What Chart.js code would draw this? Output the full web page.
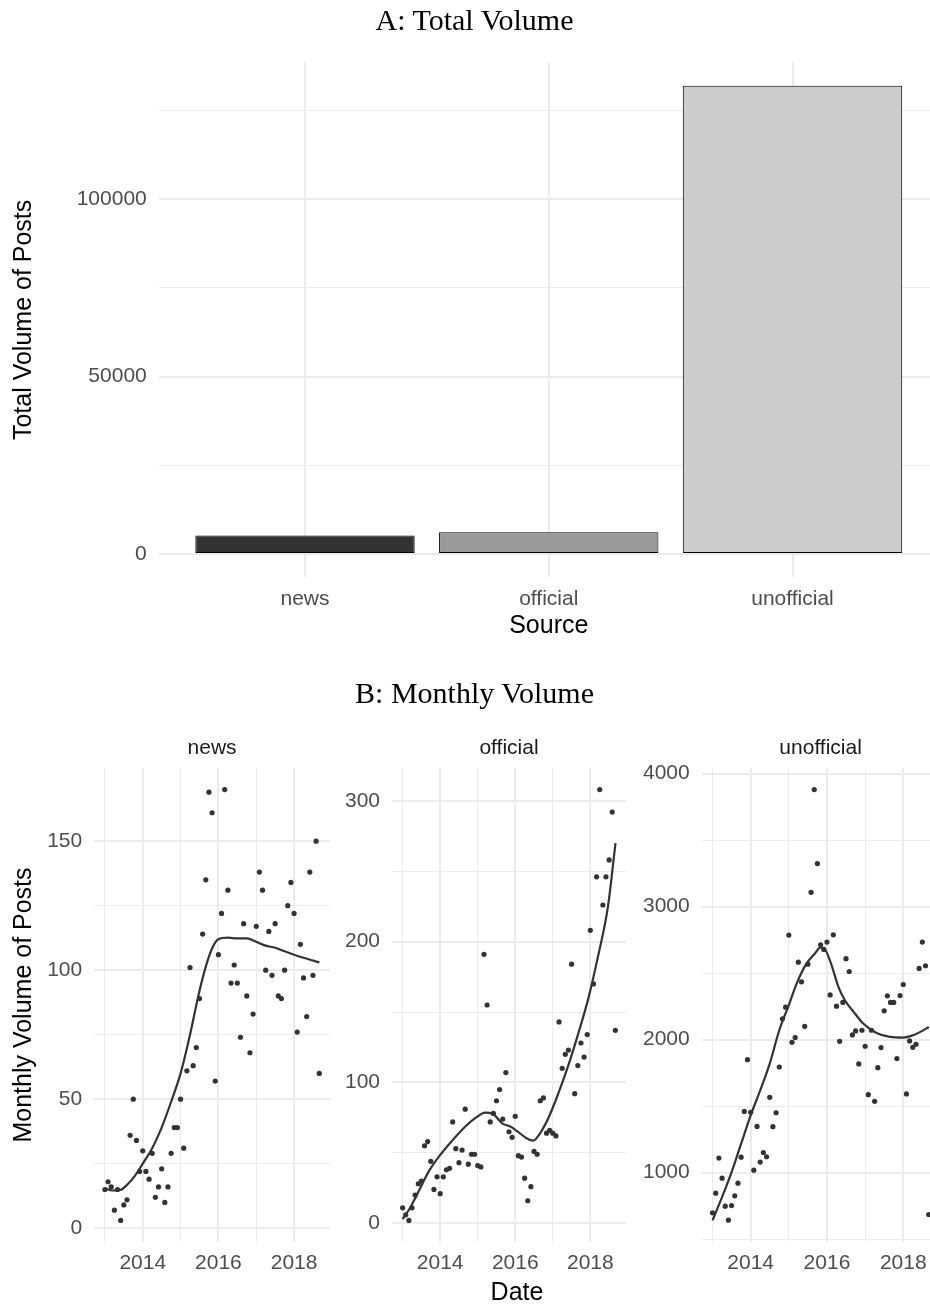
<!DOCTYPE html>
<html>
<head>
<meta charset="utf-8">
<title>Volume of Posts by Source</title>
<script src="https://cdn.jsdelivr.net/npm/chart.js@4.4.0/dist/chart.umd.min.js"></script>
<style>
    html, body { margin: 0; padding: 0; background: #fff; overflow: hidden; }
    .page { position: relative; width: 930px; height: 1306px; overflow: hidden; }
    canvas { position: absolute; }
    .plot-title {
        position: absolute; left: 0; width: 949px; text-align: center;
        font-family: "Liberation Serif", "Times New Roman", serif;
        font-size: 30px; line-height: 30px; color: #000;
    }
    .axis-title {
        position: absolute; width: 200px; text-align: center;
        font-family: "Liberation Sans", Arial, sans-serif;
        font-size: 25px; line-height: 25px; color: #000;
    }
</style>
</head>
<body>
<div class="page">
    <canvas id="totalChart" width="945" height="650" style="left:0;top:0"></canvas>
    <canvas id="newsChart" width="335" height="606" style="left:0;top:700px"></canvas>
    <canvas id="officialChart" width="295" height="606" style="left:335px;top:700px"></canvas>
    <canvas id="unofficialChart" width="315" height="606" style="left:630px;top:700px"></canvas>
    <div class="plot-title" style="top:5px">A: Total Volume</div>
    <div class="plot-title" style="top:678px">B: Monthly Volume</div>
    <div class="axis-title" style="left:417px;top:1279px">Date</div>
</div>

<script>
// Total posts per source
const sources = ['news', 'official', 'unofficial'];
const totalPosts = [5200, 6100, 132000];
const totalMajor = [0, 50000, 100000];
const totalMinor = [25000, 75000, 125000];

// Monthly post counts, one value per month from Jan 2013 to Sep 2018
const firstYear = 2013;
const newsMonthly = [
    15, 18, 16, 7, 15, 3, 9, 11, 36, 50, 34, 22,
    30, 22, 19, 29, 12, 16, 23, 10, 16, 29, 39, 39,
    50, 31, 61, 101, 63, 70, 89, 114, 135, 169, 161, 57,
    106, 122, 170, 131, 95, 102, 95, 74, 118, 90, 68, 83,
    117, 138, 131, 100, 115, 98, 118, 90, 89, 100, 125, 134,
    122, 76, 110, 97, 82, 138, 98, 150, 60
];
const officialMonthly = [
    11, 6, 2, 11, 20, 28, 30, 55, 58, 44, 24, 33,
    21, 33, 38, 39, 72, 53, 43, 52, 81, 42, 49, 49,
    41, 40, 191, 155, 72, 78, 87, 95, 74, 107, 65, 61,
    76, 48, 47, 32, 16, 26, 51, 49, 87, 89, 64, 66,
    64, 62, 143, 110, 120, 123, 184, 92, 112, 128, 118, 134,
    208, 170, 246, 308, 226, 246, 258, 292, 137
];
const unofficialMonthly = [
    697, 845, 1109, 958, 747, 642, 752, 825, 920, 1116, 1460, 1849,
    1453, 1018, 1347, 1079, 1151, 1119, 1566, 1345, 1450, 1794, 2156, 2244,
    2786, 1980, 2015, 2582, 2434, 2100, 2567, 3107, 3880, 3323, 2713, 2678,
    2733, 2336, 2788, 2251, 1987, 2279, 2608, 2512, 2035, 2065, 1817, 2070,
    1950, 1586, 2070, 1536, 1789, 1940, 2216, 2329, 2279, 2279, 1857, 2331,
    2414, 1591, 1990, 1942, 1965, 2535, 2733, 2555, 684
];

// Smoothed trend of each source, read at decimal years
const newsTrendYears = [2013.0, 2013.2, 2013.4, 2013.6, 2013.8, 2014.0, 2014.25, 2014.5, 2014.75, 2015.0,
    2015.25, 2015.5, 2015.7, 2015.85, 2016.0, 2016.25, 2016.5, 2016.75, 2017.0, 2017.25,
    2017.5, 2017.75, 2018.0, 2018.25, 2018.67];
const newsTrend = [15.5, 14.6, 14.8, 17, 20.5, 25, 31, 39, 49, 60,
    75, 92, 103, 109, 112, 112.6, 112.3, 112.3, 111, 109.5,
    108.7, 107.3, 106, 104.8, 103];
const officialTrendYears = [2013.0, 2013.2, 2013.45, 2013.7, 2014.0, 2014.33, 2014.67, 2014.95, 2015.2, 2015.4,
    2015.65, 2015.87, 2016.1, 2016.3, 2016.48, 2016.66, 2016.88, 2017.15, 2017.4, 2017.67,
    2017.94, 2018.2, 2018.47, 2018.67];
const officialTrend = [3, 11, 24, 37, 48.5, 59, 68.7, 75, 78.6, 77.7,
    71, 68.7, 64.4, 60.4, 58.7, 63.9, 74.6, 92.4, 111, 134,
    159, 189, 225, 270];
const unofficialTrendYears = [2013.0, 2013.25, 2013.5, 2013.75, 2014.0, 2014.25, 2014.5, 2014.75, 2015.0, 2015.2,
    2015.45, 2015.7, 2015.83, 2015.97, 2016.12, 2016.3, 2016.47, 2016.7, 2016.95, 2017.3,
    2017.65, 2018.0, 2018.26, 2018.45, 2018.67];
const unofficialTrend = [640, 815, 1003, 1217, 1430, 1618, 1819, 2070, 2259, 2417,
    2565, 2653, 2693, 2668, 2560, 2397, 2296, 2208, 2121, 2050,
    2020, 2015, 2033, 2058, 2095];

// Axis breaks
const yearMajor = [2014, 2016, 2018];
const yearMinor = [2013, 2015, 2017];
const newsMajor = [0, 50, 100, 150];
const newsMinor = [25, 75, 125];
const officialMajor = [0, 100, 200, 300];
const officialMinor = [50, 150, 250];
const unofficialMajor = [1000, 2000, 3000, 4000];
const unofficialMinor = [500, 1500, 2500, 3500];

const SANS = '"Liberation Sans", Arial, Helvetica, sans-serif';
const GRID = '#EBEBEB';
const TICK_COLOR = '#4D4D4D';
const INK = '#333333';

Chart.defaults.font.family = SANS;
Chart.defaults.animation = false;
Chart.defaults.plugins.legend.display = false;
Chart.defaults.plugins.tooltip.enabled = false;

// 5% padding on both sides of the data range
function paddedRange(values) {
    const lo = Math.min(...values);
    const hi = Math.max(...values);
    const pad = (hi - lo) * 0.05;
    return { min: lo - pad, max: hi + pad };
}

// Linear axis with thick major and thin minor grid lines, labels on majors only
function gridAxis(major, minor, extra) {
    const all = major.concat(minor).sort((a, b) => a - b);
    return Object.assign({
        type: 'linear',
        offset: false,
        afterBuildTicks: scale => { scale.ticks = all.map(v => ({ value: v })); },
        grid: {
            offset: false,
            color: GRID,
            lineWidth: ctx => (ctx.tick && major.includes(ctx.tick.value)) ? 2 : 1,
            drawTicks: false
        },
        border: { display: false },
        ticks: {
            color: TICK_COLOR,
            font: { size: 21 },
            autoSkip: false,
            maxRotation: 0,
            padding: 12,
            callback: v => major.includes(v) ? String(v) : ''
        }
    }, extra);
}

// A: total volume bars
const totalRange = paddedRange([0, ...totalPosts]);
const totalX = gridAxis([1, 2, 3], [], {
    min: 0.4, max: 3.6,
    afterFit: s => { s.height = 72.6; },
    title: { display: true, text: 'Source', color: '#000', font: { size: 25 }, padding: { top: 0, bottom: 8.7 } }
});
totalX.ticks.callback = v => sources[v - 1] || '';
totalX.ticks.padding = 9;

new Chart(document.getElementById('totalChart'), {
    type: 'bar',
    data: {
        datasets: [{
            data: sources.map((s, i) => ({ x: i + 1, y: totalPosts[i] })),
            backgroundColor: ['#333333', '#999999', '#CCCCCC'],
            borderColor: '#000000',
            borderWidth: 1,
            borderSkipped: false,
            barPercentage: 0.9,
            categoryPercentage: 1
        }]
    },
    options: {
        responsive: false,
        devicePixelRatio: 1,
        layout: { padding: { top: 62.4, right: 6.25, bottom: 0, left: 0 } },
        scales: {
            x: totalX,
            y: gridAxis(totalMajor, totalMinor, {
                min: totalRange.min, max: totalRange.max,
                afterFit: s => { s.width = 158.75; },
                title: { display: true, text: 'Total Volume of Posts', color: '#000', font: { size: 25 }, padding: { top: 9.5, bottom: 0 } }
            })
        }
    }
});

// B: one facet per source
function facet(id, label, monthly, trendYears, trend, major, minor, axisWidth, rightPad, yTitle) {
    const points = monthly.map((v, i) => ({ x: firstYear + i / 12, y: v }));
    const line = trendYears.map((x, i) => ({ x: x, y: trend[i] }));
    const xRange = paddedRange(points.map(p => p.x));
    const yRange = paddedRange(monthly.concat(trend));

    const xAxis = gridAxis(yearMajor, yearMinor, {
        position: 'bottom',
        min: xRange.min, max: xRange.max,
        afterFit: s => { s.height = 64; }
    });
    xAxis.ticks.padding = 8.5;

    const yAxis = gridAxis(major, minor, {
        position: 'left',
        min: yRange.min, max: yRange.max,
        afterFit: s => { s.width = axisWidth; }
    });
    if (yTitle) {
        yAxis.title = { display: true, text: yTitle, color: '#000', font: { size: 25 }, padding: { top: 9.5, bottom: 0 } };
    }

    return new Chart(document.getElementById(id), {
        type: 'scatter',
        data: {
            datasets: [
                { data: line, showLine: true, borderColor: INK, borderWidth: 2.2, pointRadius: 0,
                  cubicInterpolationMode: 'monotone', order: 0 },
                { data: points, pointRadius: 2.6, pointBorderWidth: 0, backgroundColor: INK, order: 1 }
            ]
        },
        options: {
            responsive: false,
            devicePixelRatio: 1,
            layout: { padding: { top: 0, right: rightPad, bottom: 0, left: 0 } },
            plugins: {
                title: {
                    display: true, text: label, fullSize: false, color: '#1A1A1A',
                    font: { size: 21, weight: 'normal' }, padding: { top: 36.1, bottom: 6.7 }
                }
            },
            scales: { x: xAxis, y: yAxis }
        }
    });
}

facet('newsChart', 'news', newsMonthly, newsTrendYears, newsTrend, newsMajor, newsMinor, 94.2, 5, 'Monthly Volume of Posts');
facet('officialChart', 'official', officialMonthly, officialTrendYears, officialTrend, officialMajor, officialMinor, 57, 1.6);
facet('unofficialChart', 'unofficial', unofficialMonthly, unofficialTrendYears, unofficialTrend, unofficialMajor, unofficialMinor, 71.7, 5.5);
</script>
</body>
</html>
